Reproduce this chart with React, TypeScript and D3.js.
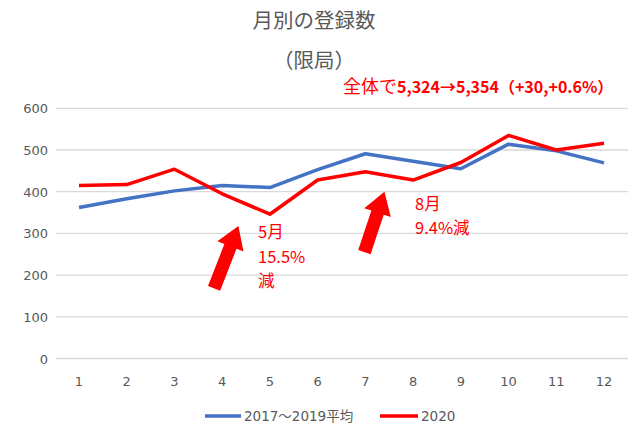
import React from 'react';
import * as d3 from 'd3';

const months = [1, 2, 3, 4, 5, 6, 7, 8, 9, 10, 11, 12];
const avg2017to2019 = [362, 383, 402, 415, 410, 453, 491, 473, 455, 514, 498, 469];
const y2020 = [415, 417, 454, 395, 346, 428, 448, 428, 470, 535, 500, 516];
const yTicks = [0, 100, 200, 300, 400, 500, 600];
const seriesNames = ['2017～2019平均', '2020'];

// arrow annotations: tail -> tip in (month, value)
const arrows = [
  { from: [3.83, 168], to: [4.34, 318] },
  { from: [6.98, 255], to: [7.4, 400] },
];

const W = 630;
const H = 428;
const GRAY = '#595959';
const BLUE = '#4472C4';
const RED = '#FF0000';
const FONT = '"Noto Sans CJK JP", "Noto Sans", sans-serif';
const NUMFONT = '"DejaVu Sans", "Noto Sans CJK JP", sans-serif';

function arrowPath(x1: number, y1: number, x2: number, y2: number) {
  const len = Math.hypot(x2 - x1, y2 - y1);
  const ang = (Math.atan2(y2 - y1, x2 - x1) * 180) / Math.PI;
  const sw = 6.5; // half shaft
  const hw = 14; // half head
  const hl = 22; // head length
  const pts: [number, number][] = [
    [0, -sw], [len - hl, -sw], [len - hl, -hw], [len, 0],
    [len - hl, hw], [len - hl, sw], [0, sw],
  ];
  return { d: 'M' + pts.map(p => p.join(',')).join('L') + 'Z', transform: `translate(${x1},${y1}) rotate(${ang})` };
}

const App = () => {
  const x = d3.scaleLinear().domain([1, 12]).range([79, 604]);
  const y = d3.scaleLinear().domain([0, 600]).range([358.5, 108.3]);

  const line = d3.line<number>()
    .x((_, i) => x(months[i]))
    .y(d => y(d));

  return (
    <svg width={W} height={H} style={{ position: 'absolute', left: 0, top: 0, fontFamily: FONT }}>
      <rect width={W} height={H} fill="#fff" />
      <text x={314} y={28} textAnchor="middle" fontSize={20.5} fill={GRAY}>月別の登録数</text>
      <text x={314} y={68} textAnchor="middle" fontSize={20.5} fill={GRAY}>（限局）</text>

      {yTicks.map(t => (
        <g key={t}>
          <line x1={56} x2={628} y1={y(t)} y2={y(t)} stroke="#d9d9d9" strokeWidth={1.3} />
          <text x={48} y={y(t) + 5} textAnchor="end" fontSize={13} fontFamily={NUMFONT} fill={GRAY}>{t}</text>
        </g>
      ))}
      {months.map(m => (
        <text key={m} x={x(m)} y={386} textAnchor="middle" fontSize={13} fontFamily={NUMFONT} fill={GRAY}>{m}</text>
      ))}

      <path d={line(avg2017to2019) || ''} fill="none" stroke={BLUE} strokeWidth={3.5} strokeLinejoin="round" />
      <path d={line(y2020) || ''} fill="none" stroke={RED} strokeWidth={3.5} strokeLinejoin="round" />

      {arrows.map((a, i) => {
        const p = arrowPath(x(a.from[0]), y(a.from[1]), x(a.to[0]), y(a.to[1]));
        return <path key={i} d={p.d} transform={p.transform} fill={RED} />;
      })}

      <text x={343} y={93} fontSize={18} fill={RED}>
        全体で<tspan fontSize={16} fontWeight="bold">5,324→5,354（+30,+0.6%）</tspan>
      </text>

      <g fontSize={16.5} fill={RED}>
        <text x={258} y={238}>5月</text>
        <text x={258} y={263}>15.5%</text>
        <text x={258} y={287}>減</text>
        <text x={415} y={210}>8月</text>
        <text x={415} y={234}>9.4%減</text>
      </g>

      <g fontSize={13.5} fontFamily={NUMFONT} fill={GRAY}>
        <line x1={205} x2={241} y1={416} y2={416} stroke={BLUE} strokeWidth={3.5} />
        <text x={244} y={421}>{seriesNames[0]}</text>
        <line x1={380} x2={418} y1={416} y2={416} stroke={RED} strokeWidth={3.5} />
        <text x={421} y={421}>{seriesNames[1]}</text>
      </g>
    </svg>
  );
};

export default App;
